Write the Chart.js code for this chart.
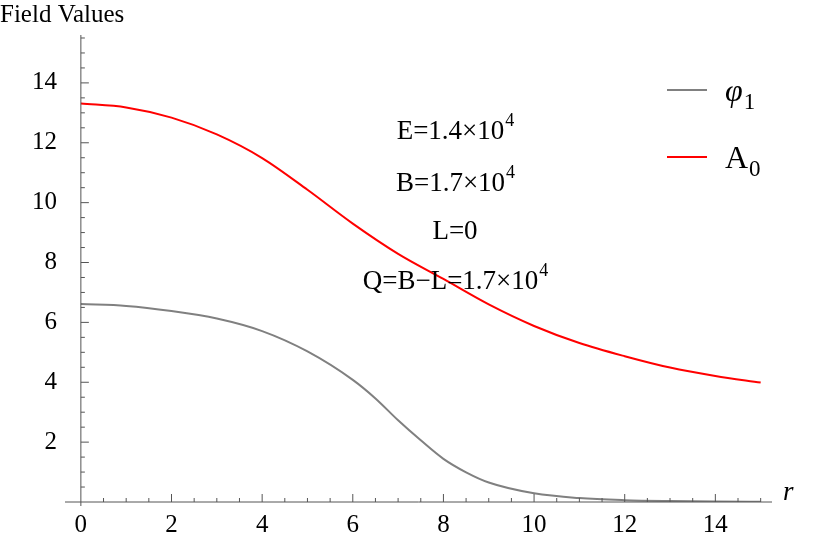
<!DOCTYPE html>
<html><head><meta charset="utf-8">
<script src="https://cdn.jsdelivr.net/npm/chart.js@4"></script>
<style>html,body{margin:0;padding:0;background:#fff}#w{width:830px;height:542px}</style>
</head><body><div id="w"><canvas id="c"></canvas></div>
<script>
const rValues = [0,1,2,3,4,5,6,6.5,7,7.5,8,8.5,9,10,11,12,13,14,15];
const phi1 = [6.61,6.55,6.38,6.13,5.71,5.03,4.08,3.46,2.73,2.06,1.44,0.99,0.65,0.29,0.13,0.06,0.03,0.015,0.01];
const rRed = [0,1,2,3,4,5,6,7,8,9,10,11,12,13,14,15];
const A0 = [13.31,13.18,12.84,12.28,11.49,10.43,9.30,8.29,7.45,6.6,5.88,5.31,4.87,4.49,4.21,3.99];
const xTicks = [0,2,4,6,8,10,12,14];
const yTicks = [2,4,6,8,10,12,14];
const seriesNames = ['φ','A'];
const annotations = [['E=1.4×10','4'],['B=1.7×10','4'],['L=0',''],['Q=B−L=1.7×10','4']];

const serif = '"Liberation Serif", "DejaVu Serif", serif';
const deco = {
  id:'deco',
  afterDraw(ch){
    const c=ch.ctx,x=ch.scales.x,y=ch.scales.y;
    const x0=x.getPixelForValue(0), y0=y.getPixelForValue(0);
    c.save();
    c.strokeStyle='#555';c.lineWidth=1;
    c.beginPath();
    c.moveTo(x0,ch.chartArea.top);c.lineTo(x0,ch.chartArea.bottom+4);
    c.moveTo(ch.chartArea.left,y0);c.lineTo(ch.chartArea.right,y0);
    c.stroke();
    c.beginPath();
    for(let v=0.5;v<=15.001;v+=0.5){const p=x.getPixelForValue(v);const L=(v%2===0)?8:4;c.moveTo(p,y0);c.lineTo(p,y0-L);}
    for(let v=0.5;v<=15.5;v+=0.5){const p=y.getPixelForValue(v);const L=(v%2===0)?8:4;c.moveTo(x0,p);c.lineTo(x0+L,p);}
    c.stroke();
    c.fillStyle='#000';
    c.font='25px '+serif;c.textAlign='left';c.textBaseline='alphabetic';
    c.fillText('Field Values',0,22);
    c.font='italic 27px '+serif;
    c.fillText('r',783,500);
    const ys=[139,191,239,289];
    annotations.forEach((a,i)=>{
      c.font='27px '+serif;
      const w1=c.measureText(a[0]).width;
      c.font='18px '+serif;
      const w2=c.measureText(a[1]).width;
      const sx=455-(w1+w2)/2;
      c.font='27px '+serif;c.fillText(a[0],sx,ys[i]);
      c.font='18px '+serif;c.fillText(a[1],sx+w1+1,ys[i]-13);
    });
    const ds=ch.data.datasets;
    const ly=[90,157];
    ds.forEach((d,i)=>{
      c.strokeStyle=d.borderColor;c.lineWidth=2;
      c.beginPath();c.moveTo(667,ly[i]);c.lineTo(707,ly[i]);c.stroke();
      c.fillStyle='#000';
      c.font=(i===0?'italic ':'')+'32px '+serif;
      c.fillText(seriesNames[i],725,ly[i]+11);
      const w=c.measureText(seriesNames[i]).width;
      c.font='23px '+serif;
      c.fillText(i===0?'1':'0',725+w+1,ly[i]+19);
    });
    c.restore();
  }
};
new Chart(document.getElementById('c'),{
  type:'line',
  data:{datasets:[
    {label:'φ1',data:rValues.map((r,i)=>({x:r,y:phi1[i]})),borderColor:'#808080',borderWidth:2,pointRadius:0,cubicInterpolationMode:'monotone'},
    {label:'A0',data:rRed.map((r,i)=>({x:r,y:A0[i]})),borderColor:'#ff0000',borderWidth:2,pointRadius:0,cubicInterpolationMode:'monotone'}
  ]},
  options:{
    responsive:true,maintainAspectRatio:false,animation:false,
    layout:{padding:{left:32,top:35,right:58,bottom:2}},
    plugins:{legend:{display:false},tooltip:{enabled:false}},
    scales:{
      x:{type:'linear',min:-0.35,max:15.25,
        afterBuildTicks:s=>{s.ticks=xTicks.map(v=>({value:v}));},
        grid:{display:false},border:{display:false},
        ticks:{color:'#000',font:{family:serif,size:25},padding:0,maxRotation:0}},
      y:{type:'linear',min:0,max:15.6,
        afterBuildTicks:s=>{s.ticks=yTicks.map(v=>({value:v}));},
        grid:{display:false},border:{display:false},
        ticks:{color:'#000',font:{family:serif,size:25},padding:0}}
    }
  },
  plugins:[deco]
});
</script></body></html>
